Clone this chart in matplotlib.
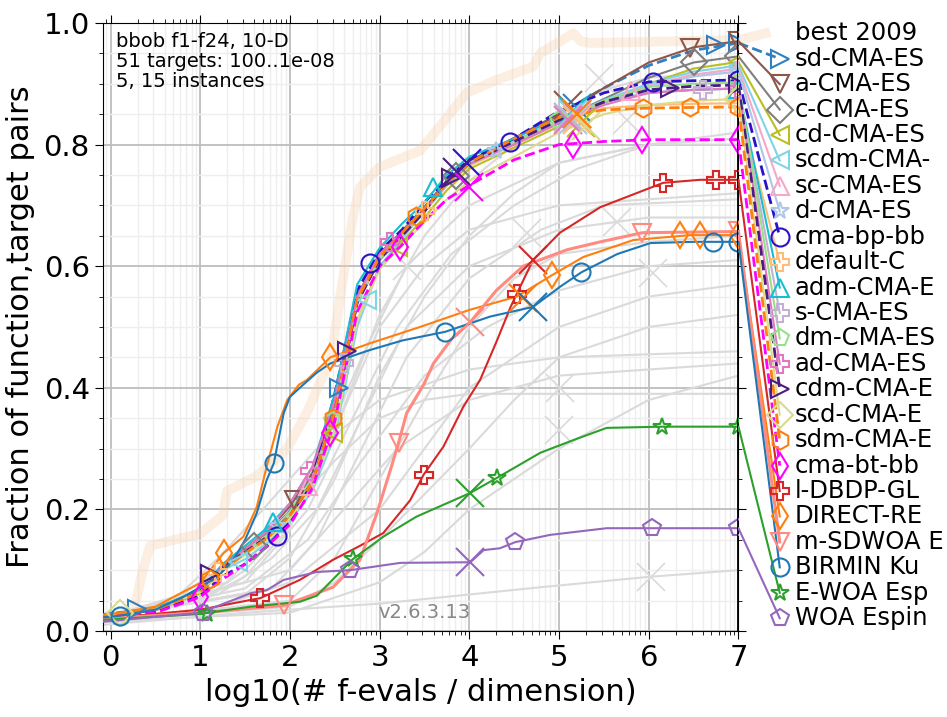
import numpy as np
import matplotlib
matplotlib.use("Agg")
import matplotlib.pyplot as plt

# ---- data ----
BX = [-0.1, 0.5, 1.0, 1.25, 1.5, 1.75, 2.0, 2.25, 2.5, 2.75, 3.0, 3.25, 3.5,
      3.75, 4.0, 4.5, 5.0, 5.5, 6.0, 6.5, 7.0]

BEST_X = [-0.1, 0.25, 0.3, 0.36, 0.44, 1.0, 1.25, 1.3, 1.63, 1.97, 2.19, 2.34,
          2.45, 2.56, 2.7, 2.78, 3.0, 3.45, 3.67, 3.97, 4.3, 4.71, 4.79, 5.16,
          5.24, 5.35, 7.0]
BEST_Y = [0.02, 0.03, 0.06, 0.1, 0.14, 0.16, 0.19, 0.23, 0.255, 0.30, 0.36,
          0.41, 0.44, 0.55, 0.68, 0.73, 0.763, 0.79, 0.83, 0.885, 0.906, 0.928,
          0.95, 0.983, 0.97, 0.967, 0.972]

Y_SD = [0.027, 0.037, 0.066, 0.105, 0.13, 0.158, 0.197, 0.255, 0.37, 0.55, 0.62, 0.657, 0.697, 0.74, 0.772, 0.81, 0.85, 0.893, 0.93, 0.955, 0.967]
Y_A = [0.025, 0.035, 0.066, 0.108, 0.135, 0.165, 0.205, 0.26, 0.37, 0.55, 0.62, 0.655, 0.695, 0.74, 0.773, 0.81, 0.85, 0.893, 0.935, 0.96, 0.97]
Y_C = [0.025, 0.034, 0.064, 0.105, 0.135, 0.16, 0.197, 0.25, 0.36, 0.54, 0.61, 0.648, 0.69, 0.735, 0.768, 0.805, 0.84, 0.875, 0.91, 0.935, 0.945]
Y_CD = [0.025, 0.034, 0.062, 0.1, 0.127, 0.152, 0.188, 0.24, 0.33, 0.51, 0.6, 0.64, 0.68, 0.725, 0.76, 0.795, 0.83, 0.868, 0.9, 0.925, 0.936]
Y_SCDM = [0.025, 0.035, 0.065, 0.1, 0.118, 0.145, 0.18, 0.23, 0.32, 0.5, 0.6, 0.645, 0.69, 0.735, 0.77, 0.805, 0.84, 0.873, 0.9, 0.92, 0.93]
Y_SC = [0.025, 0.035, 0.064, 0.104, 0.13, 0.156, 0.193, 0.248, 0.355, 0.54, 0.612, 0.65, 0.69, 0.733, 0.766, 0.803, 0.838, 0.87, 0.897, 0.915, 0.925]
Y_D = [0.025, 0.035, 0.065, 0.106, 0.132, 0.158, 0.196, 0.252, 0.36, 0.545, 0.615, 0.652, 0.69, 0.735, 0.768, 0.803, 0.838, 0.87, 0.895, 0.912, 0.92]
Y_BP = [0.022, 0.032, 0.058, 0.09, 0.11, 0.14, 0.18, 0.25, 0.39, 0.56, 0.625, 0.66, 0.705, 0.745, 0.775, 0.81, 0.855, 0.885, 0.903, 0.905, 0.906]
Y_DEF = [0.025, 0.035, 0.065, 0.105, 0.13, 0.157, 0.195, 0.25, 0.36, 0.545, 0.615, 0.65, 0.69, 0.733, 0.765, 0.8, 0.835, 0.86, 0.865, 0.867, 0.868]
Y_ADM = [0.026, 0.037, 0.068, 0.11, 0.14, 0.17, 0.21, 0.27, 0.39, 0.57, 0.63, 0.67, 0.705, 0.75, 0.78, 0.81, 0.845, 0.87, 0.885, 0.89, 0.892]
Y_S = [0.025, 0.035, 0.064, 0.103, 0.13, 0.156, 0.194, 0.25, 0.365, 0.545, 0.615, 0.652, 0.69, 0.735, 0.768, 0.803, 0.838, 0.87, 0.885, 0.89, 0.893]
Y_DM = [0.025, 0.035, 0.065, 0.105, 0.13, 0.157, 0.195, 0.25, 0.355, 0.54, 0.612, 0.65, 0.69, 0.733, 0.767, 0.803, 0.84, 0.872, 0.895, 0.9, 0.902]
Y_AD = [0.025, 0.035, 0.066, 0.107, 0.134, 0.165, 0.21, 0.27, 0.38, 0.55, 0.62, 0.655, 0.692, 0.735, 0.768, 0.8, 0.835, 0.865, 0.885, 0.89, 0.892]
Y_CDM = [0.025, 0.035, 0.065, 0.105, 0.13, 0.155, 0.19, 0.245, 0.36, 0.54, 0.612, 0.65, 0.69, 0.74, 0.77, 0.805, 0.84, 0.87, 0.89, 0.896, 0.898]
Y_SCD = [0.026, 0.036, 0.064, 0.1, 0.125, 0.15, 0.185, 0.235, 0.33, 0.51, 0.595, 0.635, 0.672, 0.71, 0.74, 0.78, 0.82, 0.85, 0.865, 0.872, 0.875]
Y_SDM = [0.025, 0.035, 0.063, 0.1, 0.128, 0.153, 0.19, 0.245, 0.36, 0.545, 0.615, 0.655, 0.695, 0.737, 0.77, 0.81, 0.845, 0.857, 0.86, 0.861, 0.862]
Y_BT = [0.022, 0.03, 0.056, 0.085, 0.11, 0.14, 0.175, 0.235, 0.345, 0.525, 0.6, 0.635, 0.675, 0.71, 0.733, 0.775, 0.80, 0.805, 0.808, 0.808, 0.808]

X_DBDP = [-0.1, 1.0, 1.56, 1.67, 2.11, 2.48, 2.78, 3.04, 3.34, 3.49, 3.71, 3.93, 4.12, 4.3, 4.46, 4.53, 4.71, 5.01, 5.46, 6.16, 6.57, 7.0]
Y_DBDP = [0.02, 0.035, 0.051, 0.054, 0.084, 0.117, 0.14, 0.161, 0.215, 0.257, 0.303, 0.368, 0.413, 0.475, 0.533, 0.555, 0.61, 0.655, 0.697, 0.737, 0.742, 0.742]
X_DIR = [-0.1, 0.5, 0.78, 1.0, 1.26, 1.48, 1.63, 1.74, 1.86, 1.97, 2.1, 2.19, 2.45, 2.89, 3.45, 4.0, 4.53, 4.92, 5.27, 5.83, 6.46, 7.0]
Y_DIR = [0.025, 0.04, 0.062, 0.079, 0.128, 0.155, 0.204, 0.27, 0.336, 0.38, 0.405, 0.413, 0.45, 0.473, 0.5, 0.528, 0.55, 0.585, 0.615, 0.643, 0.651, 0.651]
X_MSD = [-0.1, 1.0, 1.93, 2.48, 2.78, 2.97, 3.12, 3.21, 3.3, 3.49, 3.6, 3.8, 4.01, 4.3, 4.6, 5.09, 5.46, 5.93, 7.0]
Y_MSD = [0.02, 0.03, 0.042, 0.072, 0.117, 0.194, 0.265, 0.309, 0.358, 0.405, 0.44, 0.48, 0.508, 0.56, 0.6, 0.627, 0.64, 0.655, 0.657]
X_BIR = [-0.1, 0.1, 0.5, 0.81, 1.0, 1.2, 1.37, 1.5, 1.63, 1.74, 1.82, 1.93, 2.0, 2.11, 2.3, 2.45, 2.89, 3.26, 3.73, 4.23, 4.71, 5.01, 5.25, 5.65, 6.02, 6.5, 7.0]
Y_BIR = [0.022, 0.025, 0.035, 0.056, 0.072, 0.09, 0.117, 0.15, 0.194, 0.248, 0.276, 0.358, 0.385, 0.40, 0.425, 0.44, 0.462, 0.478, 0.492, 0.517, 0.533, 0.566, 0.59, 0.62, 0.638, 0.64, 0.64]
X_EWOA = [-0.1, 1.0, 1.56, 2.11, 2.3, 2.7, 3.04, 3.41, 4.01, 4.31, 4.79, 5.16, 5.53, 6.15, 7.0]
Y_EWOA = [0.018, 0.028, 0.04, 0.048, 0.058, 0.118, 0.155, 0.188, 0.227, 0.252, 0.293, 0.314, 0.334, 0.336, 0.336]
X_WOA = [-0.1, 1.0, 1.56, 1.74, 1.93, 2.3, 2.67, 3.23, 4.01, 4.16, 4.34, 4.51, 4.9, 5.53, 6.04, 7.0]
Y_WOA = [0.015, 0.03, 0.062, 0.067, 0.084, 0.097, 0.1, 0.112, 0.113, 0.133, 0.136, 0.146, 0.158, 0.169, 0.169, 0.169]

NAMES = ["sd-CMA-ES", "a-CMA-ES", "c-CMA-ES", "cd-CMA-ES", "scdm-CMA-", "sc-CMA-ES",
         "d-CMA-ES", "cma-bp-bb", "default-C", "adm-CMA-E", "s-CMA-ES", "dm-CMA-ES",
         "ad-CMA-ES", "cdm-CMA-E", "scd-CMA-E", "sdm-CMA-E", "cma-bt-bb", "l-DBDP-GL",
         "DIRECT-RE", "m-SDWOA E", "BIRMIN Ku", "E-WOA Esp", "WOA Espin"]
COLORS = ["#2f7fc1", "#8c564b", "#7f7f7f", "#bcbd22", "#80d4e6", "#f7a8c8",
          "#aec7e8", "#2a12c9", "#ffbb78", "#17becf", "#c5b0d5", "#98df8a",
          "#e377c2", "#4a1d82", "#dbdb8d", "#ff7f0e", "#ff00ff", "#d62728",
          "#ff7f0e", "#ff8a80", "#1f77b4", "#2ca02c", "#9467bd"]
MARKERS = [">", "v", "D", "<", "<", "^", "*", "o", "P", "^", "P", "p",
           "P", ">", "D", "h", "d", "P", "d", "v", "o", "*", "p"]
STYLES = ["--", "-", "-", "-", "-", "-", "-", "--", "-", "-", "-", "-",
          "-", "--", "-", "--", "--", "-", "-", "-", "-", "-", "-"]
CURVES_X = [BX] * 17 + [X_DBDP, X_DIR, X_MSD, X_BIR, X_EWOA, X_WOA]
CURVES_Y = [Y_SD, Y_A, Y_C, Y_CD, Y_SCDM, Y_SC, Y_D, Y_BP, Y_DEF, Y_ADM, Y_S, Y_DM,
            Y_AD, Y_CDM, Y_SCD, Y_SDM, Y_BT, Y_DBDP, Y_DIR, Y_MSD, Y_BIR, Y_EWOA, Y_WOA]

# marker positions along each curve
MK = [
    ([0.3, 2.55, 6.75, 7.0], [0.036, 0.40, 0.963, 0.967]),
    ([2.05, 6.46, 7.0], [0.215, 0.958, 0.97]),
    ([1.6, 3.85, 6.5, 7.0], [0.14, 0.748, 0.935, 0.945]),
    ([2.48, 3.2, 7.0], [0.325, 0.632, 0.936]),
    ([1.42, 2.86, 7.0], [0.113, 0.545, 0.93]),
    ([2.2, 5.8, 7.0], [0.238, 0.888, 0.925]),
    ([1.85, 4.3, 7.0], [0.172, 0.79, 0.92]),
    ([1.85, 2.89, 4.45, 6.05, 7.0], [0.156, 0.605, 0.805, 0.903, 0.906]),
    ([1.2, 3.5, 7.0], [0.097, 0.69, 0.868]),
    ([1.81, 3.6, 7.0], [0.18, 0.73, 0.892]),
    ([2.6, 6.6, 7.0], [0.44, 0.89, 0.893]),
    ([2.48, 5.0, 7.0], [0.345, 0.84, 0.902]),
    ([2.22, 3.12, 7.0], [0.263, 0.64, 0.892]),
    ([1.11, 2.64, 3.79, 6.24, 7.0], [0.093, 0.46, 0.745, 0.893, 0.898]),
    ([0.1, 7.0], [0.03, 0.875]),
    ([1.11, 2.48, 3.41, 5.94, 6.46, 7.0], [0.085, 0.35, 0.682, 0.86, 0.861, 0.862]),
    ([1.0, 2.45, 3.23, 5.16, 5.93, 7.0], [0.056, 0.325, 0.632, 0.80, 0.808, 0.808]),
    ([1.67, 3.49, 4.53, 6.16, 6.75, 7.0], [0.054, 0.257, 0.555, 0.737, 0.742, 0.742]),
    ([1.26, 2.45, 4.92, 6.35, 6.57, 7.0], [0.128, 0.45, 0.585, 0.651, 0.651, 0.651]),
    ([1.93, 3.21, 5.93, 7.0], [0.042, 0.309, 0.655, 0.657]),
    ([0.1, 1.82, 3.73, 5.25, 6.72, 7.0], [0.025, 0.276, 0.492, 0.59, 0.64, 0.64]),
    ([1.07, 2.7, 4.31, 6.15, 7.0], [0.028, 0.118, 0.252, 0.336, 0.336]),
    ([1.03, 2.67, 4.51, 6.04, 7.0], [0.03, 0.1, 0.146, 0.169, 0.169]),
]
CROSS_X = [5.2, 5.1, 5.2, 5.25, 5.15, 5.2, 5.15, 3.97, 5.2, 5.15, 5.1, 5.2, 5.1, 3.86, 5.3, 5.2, 4.0,
           4.71, 4.6, 4.01, 4.71, 4.01, 4.01]
CROSS_Y = [0.86, 0.865, 0.85, 0.835, 0.85, 0.845, 0.84, 0.77, 0.84, 0.855, 0.845, 0.85, 0.84, 0.755, 0.83, 0.85, 0.73,
           0.61, 0.548, 0.508, 0.533, 0.227, 0.113]

# background (other archived algorithms)
GRAY_X = [
    [-0.1, 1.0, 1.5, 2.0, 2.5, 3.0, 3.5, 4.0, 4.5, 5.0, 5.5, 6.0, 7.0],
    [-0.1, 1.5, 2.0, 2.5, 3.0, 3.5, 4.0, 4.5, 5.0, 6.0, 7.0],
    [-0.1, 1.8, 2.3, 2.8, 3.3, 4.0, 4.8, 5.5, 7.0],
    [-0.1, 2.0, 2.5, 3.0, 3.5, 4.0, 4.5, 5.0, 6.0, 7.0],
    [-0.1, 1.0, 2.0, 3.0, 3.5, 4.0, 5.0, 6.0, 7.0],
    [-0.1, 2.0, 2.5, 3.0, 4.0, 4.5, 5.0, 6.0, 7.0],
    [-0.1, 2.0, 3.0, 3.5, 4.0, 5.0, 6.0, 7.0],
    [-0.1, 1.5, 3.0, 4.8, 6.0, 7.0],
    [-0.1, 1.0, 1.5, 2.0, 2.5, 3.0, 3.5, 4.0, 5.0, 7.0],
    [-0.1, 1.2, 1.8, 2.3, 2.8, 3.3, 4.0, 5.0, 6.0, 7.0],
    [-0.1, 1.5, 2.2, 2.8, 3.5, 4.2, 5.0, 6.0, 7.0],
    [-0.1, 0.7, 1.2, 1.7, 2.3, 3.0, 4.0, 5.0, 7.0],
    [-0.1, 0.8, 1.4, 2.0, 2.5, 3.0, 3.5, 4.0, 7.0],
    [-0.1, 1.5, 2.2, 2.7, 3.2, 3.8, 4.5, 5.2, 6.0, 7.0],
    [-0.1, 2.0, 2.6, 3.2, 4.0, 5.0, 7.0],
    [-0.1, 1.3, 1.8, 2.3, 2.8, 3.3, 4.0, 5.0, 6.0, 7.0],
]
GRAY_Y = [
    [0.02, 0.05, 0.09, 0.17, 0.33, 0.52, 0.65, 0.74, 0.8, 0.85, 0.89, 0.91, 0.92],
    [0.02, 0.06, 0.12, 0.25, 0.42, 0.55, 0.65, 0.72, 0.77, 0.8, 0.81],
    [0.02, 0.07, 0.15, 0.3, 0.45, 0.58, 0.66, 0.7, 0.71],
    [0.015, 0.05, 0.12, 0.25, 0.38, 0.5, 0.58, 0.62, 0.64, 0.65],
    [0.015, 0.03, 0.08, 0.2, 0.3, 0.4, 0.5, 0.55, 0.57],
    [0.015, 0.04, 0.08, 0.15, 0.3, 0.38, 0.45, 0.5, 0.52],
    [0.015, 0.03, 0.08, 0.13, 0.2, 0.3, 0.38, 0.42],
    [0.01, 0.03, 0.045, 0.072, 0.089, 0.1],
    [0.02, 0.05, 0.1, 0.18, 0.33, 0.5, 0.6, 0.66, 0.7, 0.72],
    [0.02, 0.06, 0.12, 0.2, 0.35, 0.5, 0.6, 0.66, 0.68, 0.68],
    [0.02, 0.07, 0.15, 0.28, 0.42, 0.5, 0.56, 0.6, 0.61],
    [0.02, 0.05, 0.12, 0.2, 0.3, 0.38, 0.43, 0.45, 0.46],
    [0.02, 0.06, 0.12, 0.2, 0.28, 0.35, 0.38, 0.39, 0.39],
    [0.02, 0.08, 0.2, 0.35, 0.5, 0.62, 0.7, 0.76, 0.8, 0.82],
    [0.015, 0.1, 0.2, 0.3, 0.38, 0.42, 0.44],
    [0.02, 0.08, 0.16, 0.28, 0.45, 0.6, 0.7, 0.77, 0.8, 0.8],
]
GRAY_CROSS_X = [5.45, 4.64, 5.65, 6.05, 5.0, 5.01, 6.02, 5.76, 3.3]
GRAY_CROSS_Y = [0.91, 0.655, 0.673, 0.589, 0.33, 0.40, 0.089, 0.84, 0.6]

# ---- figure ----
fig = plt.figure(figsize=(9.47, 7.17), dpi=100)
ax = fig.add_axes([0.1088, 0.12, 0.671, 0.848])

for gx, gy in zip(GRAY_X, GRAY_Y):
    ax.plot(gx, gy, color="#dadada", lw=1.5, zorder=1)
ax.plot(GRAY_CROSS_X, GRAY_CROSS_Y, ls="none", marker="x", ms=20, mew=1.2,
        color="#dadada", zorder=1)

BEST_COLOR = "#f7cfa8"
ax.plot(BEST_X, BEST_Y, color=BEST_COLOR, alpha=0.35, lw=7, zorder=2,
        solid_capstyle="round")

label_y = np.linspace(0.983, 0.021, 24)
ax.plot([7.0, 7.3], [BEST_Y[-1], label_y[0]], color=BEST_COLOR, alpha=0.35, lw=7,
        clip_on=False, zorder=2)
ax.text(7.63, label_y[0], "best 2009", fontsize=17.5, va="center", ha="left")

for i, name in enumerate(NAMES):
    c, m, ls = COLORS[i], MARKERS[i], STYLES[i]
    lw = 2.0 if ls == "--" else 1.5
    if name == "m-SDWOA E":
        lw = 2.2
    ax.plot(CURVES_X[i], CURVES_Y[i], color=c, ls=ls, lw=lw, zorder=3)
    mx, my = MK[i]
    ax.plot(mx, my, ls="none", marker=m, ms=13, mfc="none", mec=c, mew=1.5, zorder=4)
    ax.plot(CROSS_X[i], CROSS_Y[i], marker="x", ms=20, mew=1.5, color=c, zorder=4)
    ly = label_y[i + 1]
    ax.plot([7.0, 7.46], [CURVES_Y[i][-1], ly], color=c, ls=ls, lw=lw,
            clip_on=False, zorder=3)
    ax.plot([7.46], [ly], marker=m, ms=13, mfc="none", mec=c, mew=1.5,
            clip_on=False, zorder=4)
    ax.text(7.63, ly, name, fontsize=17.5, va="center", ha="left")

ax.axvline(7.0, color="k", lw=2, zorder=5)

ax.set_xlim(-0.084, 7.0)
ax.set_ylim(0, 1.0)
ax.set_xticks(range(8))
minor_x = [k + np.log10(j) for k in range(-1, 7) for j in range(2, 10)]
ax.set_xticks([v for v in minor_x if -0.084 < v < 7.0], minor=True)
ax.set_yticks([0, 0.2, 0.4, 0.6, 0.8, 1.0])
ax.set_yticks(np.arange(0.05, 1.0, 0.05), minor=True)
ax.tick_params(axis="both", which="major", labelsize=21, length=6, top=True, right=True)
ax.tick_params(axis="both", which="minor", length=3, top=True, right=True)
ax.grid(True, which="major", color="#bdbdbd", lw=1.3)
ax.grid(True, which="minor", color="#eeeeee", lw=1.0)
ax.set_axisbelow(True)

ax.set_xlabel("log10(# f-evals / dimension)", fontsize=22, labelpad=4)
ax.set_ylabel("Fraction of function,target pairs", fontsize=22, labelpad=6)

ax.text(0.02, 0.985, "bbob f1-f24, 10-D\n51 targets: 100..1e-08\n5, 15 instances",
        transform=ax.transAxes, fontsize=14, va="top", ha="left", linespacing=1.05)
ax.text(3.5, 0.03, "v2.6.3.13", fontsize=14, color="#888888", ha="center", va="center")

fig.savefig("out.png", dpi=100)
